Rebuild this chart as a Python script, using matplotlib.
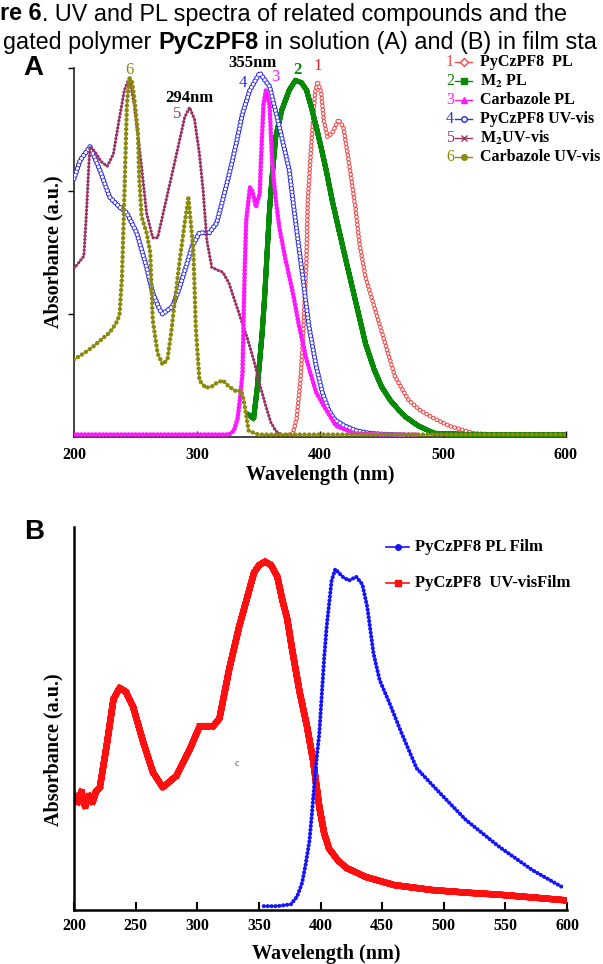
import numpy as np
import matplotlib.pyplot as plt
from matplotlib.lines import Line2D

plt.rcParams['lines.scale_dashes'] = False
plt.rcParams['mathtext.fontset'] = 'stix'
plt.rcParams['font.family'] = 'Liberation Serif'
plt.rcParams['font.weight'] = 'bold'
plt.rcParams['axes.labelweight'] = 'bold'

SANS = 'Liberation Sans'

# ---------------- Panel A (solution), y in axis-tick units ----------------
# 1  PyCzPF8 PL
wl1 = [356, 370, 378, 381, 384, 386, 389, 390, 393, 396, 398, 401, 403, 406, 410,
       415, 419, 424, 429, 432, 437, 445, 453, 461, 472, 481, 491, 505, 525, 560, 580]
ab1 = [0.0, 0.0, 0.03, 0.15, 0.45, 0.76, 1.44, 1.90, 2.39, 2.80, 2.89, 2.80, 2.58, 2.44, 2.47,
       2.58, 2.52, 2.20, 1.85, 1.58, 1.30, 1.03, 0.76, 0.49, 0.30, 0.22, 0.16, 0.09, 0.03, 0.01, 0.01]
# 2  M2 PL
wl2 = [342, 346, 349, 353, 355, 357, 359, 361, 364, 369, 375, 380, 385, 389, 393, 397, 401,
       405, 410, 415, 421, 429, 437, 444, 450, 457, 464, 470, 480, 493, 520, 560, 600]
ab2 = [0.18, 0.15, 0.40, 0.85, 1.14, 1.50, 1.85, 2.11, 2.44, 2.66, 2.82, 2.90, 2.88, 2.82, 2.68, 2.52, 2.35,
       2.17, 1.92, 1.70, 1.44, 1.10, 0.76, 0.55, 0.41, 0.30, 0.22, 0.16, 0.09, 0.03, 0.02, 0.02, 0.02]
# 3  Carbazole PL
wl3 = [200, 250, 300, 326, 330, 333, 335, 337, 338, 339, 340, 343, 345, 348, 351, 352,
       354, 356, 359, 361, 364, 367, 372, 378, 383, 389, 397, 405, 413, 428, 450, 480]
ab3 = [0.02, 0.02, 0.02, 0.02, 0.05, 0.15, 0.32, 0.52, 1.03, 1.44, 1.76, 2.03, 2.00, 1.87, 1.98, 2.25,
       2.70, 2.82, 2.70, 2.25, 1.93, 1.70, 1.44, 1.17, 0.90, 0.63, 0.36, 0.22, 0.09, 0.03, 0.02, 0.02]
# 4  PyCzPF8 UV-vis
wl4 = [200, 205, 213, 221, 229, 237, 243, 251, 259, 264, 270, 272, 280, 286, 291, 296, 302, 310,
       316, 321, 327, 332, 337, 343, 351, 359, 367, 375, 380, 386, 391, 397, 402, 407, 412, 420,
       430, 440, 455, 470]
ab4 = [2.10, 2.25, 2.36, 2.17, 1.95, 1.87, 1.82, 1.66, 1.38, 1.17, 1.03, 1.00, 1.06, 1.22, 1.38, 1.55,
       1.66, 1.66, 1.74, 1.93, 2.17, 2.39, 2.63, 2.82, 2.96, 2.85, 2.52, 2.17, 1.76, 1.30, 0.90, 0.57,
       0.36, 0.22, 0.14, 0.09, 0.05, 0.03, 0.02, 0.015]
# 5  M2 UV-vis
wl5 = [200, 204, 208, 210, 212, 213, 217, 222, 227, 232, 237, 241, 245, 249, 254, 259, 264, 268,
       275, 280, 286, 290, 294, 298, 302, 305, 308, 312, 316, 321, 326, 331, 336, 341, 346, 351,
       356, 360, 364, 368]
ab5 = [1.37, 1.42, 1.47, 1.80, 2.20, 2.36, 2.32, 2.24, 2.20, 2.30, 2.60, 2.82, 2.92, 2.70, 2.28, 1.82,
       1.62, 1.62, 1.93, 2.15, 2.42, 2.60, 2.68, 2.58, 2.30, 2.00, 1.60, 1.38, 1.36, 1.34, 1.25, 1.10,
       0.95, 0.80, 0.63, 0.43, 0.25, 0.12, 0.05, 0.02]
# 6  Carbazole UV-vis
wl6 = [200, 208, 215, 222, 229, 234, 237, 239, 241, 243, 245, 247, 249, 252, 253, 255, 259, 262,
       264, 268, 272, 276, 279, 282, 286, 290, 293, 295, 297, 298, 299, 302, 307, 312, 316, 321,
       326, 332, 336, 338, 342, 350, 400, 500, 600]
ab6 = [0.63, 0.68, 0.73, 0.79, 0.85, 0.92, 0.99, 1.30, 1.98, 2.70, 2.92, 2.90, 2.76, 2.47, 2.11, 1.79,
       1.66, 1.50, 0.95, 0.68, 0.59, 0.63, 0.85, 1.11, 1.44, 1.74, 1.94, 1.74, 1.52, 1.22, 0.89, 0.46,
       0.40, 0.41, 0.44, 0.46, 0.41, 0.37, 0.38, 0.30, 0.05, 0.02, 0.02, 0.02, 0.02]

names_a = ['PyCzPF8  PL', r'M$_{2}$ PL', 'Carbazole PL', 'PyCzPF8 UV-vis',
           r'M$_{2}$UV-vis', 'Carbazole UV-vis']
colors_a = ['#f24a4a', '#078a07', '#ff19ff', '#2b2be8', '#993366', '#8a8a0c']

# ---------------- Panel B (film) ----------------
wl_uv_film = [200, 203, 206, 209, 212, 215, 218, 221, 224, 227, 232, 237, 242, 248, 256, 264, 272,
              283, 294, 302, 308, 313, 318, 326, 334, 340, 346, 350, 355, 360, 365, 369, 373, 377,
              383, 389, 394, 399, 403, 407, 414, 421, 437, 460, 491, 520, 545, 575, 600]
ab_uv_film = [0.30, 0.28, 0.31, 0.27, 0.30, 0.28, 0.31, 0.32, 0.38, 0.44, 0.55, 0.58, 0.57, 0.53, 0.44,
              0.36, 0.32, 0.35, 0.42, 0.48, 0.48, 0.48, 0.50, 0.63, 0.74, 0.81, 0.88, 0.90, 0.91, 0.90,
              0.87, 0.81, 0.76, 0.68, 0.57, 0.48, 0.39, 0.27, 0.20, 0.16, 0.13, 0.11, 0.086, 0.065,
              0.052, 0.045, 0.040, 0.032, 0.025]
wl_pl_film = [354, 365, 376, 381, 385, 388, 391, 393, 395, 397, 399, 401, 403, 405, 407, 409, 412,
              415, 418, 423, 429, 434, 438, 443, 448, 456, 466, 478, 497, 518, 545, 572, 596]
ab_pl_film = [0.01, 0.01, 0.015, 0.035, 0.07, 0.12, 0.18, 0.25, 0.33, 0.40, 0.46, 0.56, 0.66, 0.74,
              0.80, 0.86, 0.89, 0.88, 0.87, 0.86, 0.87, 0.85, 0.79, 0.67, 0.60, 0.54, 0.46, 0.37,
              0.305, 0.235, 0.165, 0.104, 0.06]

W, H = 603, 964
fig = plt.figure(figsize=(W / 100, H / 100), dpi=100)


def fx(px):
    return px / W


def fy(py):
    return 1 - py / H


def beaded(ax, x, y, color, size, gap, hollow=False, cap='round', lw=0.8, z=2):
    # thin connecting line plus densely packed "markers" made by a dotted style
    ax.plot(x, y, color=color, lw=lw, zorder=z)
    ax.plot(x, y, color=color, lw=size, ls=(0, (0.01, gap)), dash_capstyle=cap, zorder=z)
    if hollow:
        ax.plot(x, y, color='white', lw=size - 1.5, ls=(0, (0.01, gap)),
                dash_capstyle=cap, zorder=z)


# ---------------- caption ----------------
def rich_line(x, y, parts, size):
    r = fig.canvas.get_renderer()
    for txt, weight in parts:
        t = fig.text(fx(x), fy(y), txt, fontsize=size, fontweight=weight,
                     family=SANS, va='center', ha='left')
        x += t.get_window_extent(r).width


rich_line(0, 14, [('re 6', 'bold'), ('. UV and PL spectra of related compounds and the', 'normal')], 16.8)
rich_line(3, 43, [('gated polymer ', 'normal'), ('PyCzPF8', 'bold'),
                  (' in solution (A) and (B) in film sta', 'normal')], 16.8)

# ---------------- panel A ----------------
ax = fig.add_axes([fx(74), fy(437), (566 - 74) / W, (437 - 68) / H])
beaded(ax, wl1, ab1, colors_a[0], 3.4, 2.8, hollow=True, z=2)
beaded(ax, wl2, ab2, colors_a[1], 3.6, 1.4, cap='projecting', z=3)
beaded(ax, wl4, ab4, colors_a[3], 3.8, 2.6, hollow=True, z=4)
beaded(ax, wl5, ab5, colors_a[4], 2.4, 2.6, z=5)
beaded(ax, wl3, ab3, colors_a[2], 3.4, 2.6, z=6)
beaded(ax, wl6, ab6, colors_a[5], 3.2, 3.4, z=7)

ax.set_xlim(200, 600)
ax.set_ylim(0, 3)
ax.set_xticks([200, 300, 400, 500, 600])
ax.set_yticks([1, 2, 3])
ax.set_yticklabels([])
ax.tick_params(axis='x', direction='in', length=4, width=1, labelsize=11.5, pad=7)
ax.tick_params(axis='y', direction='out', length=4, width=1)
for s in ['top', 'right']:
    ax.spines[s].set_visible(False)
for s in ['left', 'bottom']:
    ax.spines[s].set_linewidth(1.2)
    ax.spines[s].set_color('#222222')
ax.set_xlabel('Wavelength (nm)', fontsize=14.5, va='center')
ax.xaxis.set_label_coords(0.5, (437 - 475) / 369)
ax.set_ylabel('Absorbance (a.u.)', fontsize=14.5, va='center')
ax.yaxis.set_label_coords((53 - 74) / 492, (437 - 252) / 369)

# peak annotations
ax.text(245, 2.98, '6', color=colors_a[5], fontsize=12, fontweight='normal',
        ha='center', va='center', clip_on=False)
ax.text(294, 2.76, '294nm', color='black', fontsize=12, ha='center', va='center')
ax.text(284, 2.63, '5', color=colors_a[4], fontsize=12, fontweight='normal',
        ha='center', va='center')
ax.text(345, 3.04, '355nm', color='black', fontsize=12, ha='center', va='center', clip_on=False)
ax.text(337, 2.88, '4', color=colors_a[3], fontsize=12, fontweight='normal', ha='center', va='center')
ax.text(364, 2.93, '3', color=colors_a[2], fontsize=12, fontweight='normal', ha='center', va='center')
ax.text(382, 2.98, '2', color=colors_a[1], fontsize=12, ha='center', va='center', clip_on=False)
ax.text(398, 3.02, '1', color='#e82020', fontsize=12, fontweight='normal', ha='center',
        va='center', clip_on=False)

fig.text(fx(23), fy(68), 'A', family=SANS, fontsize=20, fontweight='bold', va='center', ha='left')

# legend A
rows = [62, 81, 100, 119, 138, 157]
markers_a = ['D', 's', '^', 'o', 'x', 'o']
for i, (name, col) in enumerate(zip(names_a, colors_a)):
    y = fy(rows[i])
    fig.text(fx(450), y, str(i + 1), color=col, fontsize=11.5, fontweight='normal',
             ha='center', va='center')
    hollow = i in (0, 3)
    fig.add_artist(Line2D([fx(455), fx(463.5), fx(472)], [y, y, y], color=col, lw=1,
                          marker=markers_a[i], markevery=[1], ms=4,
                          mfc='white' if hollow else col, mec=col))
    fig.text(fx(480), y, name, color='black', fontsize=11.5, ha='left', va='center')

# ---------------- panel B ----------------
bx = fig.add_axes([fx(74), fy(910), (567 - 74) / W, (910 - 527) / H])
beaded(bx, wl_uv_film, ab_uv_film, '#ff1010', 4.6, 1.6, cap='projecting', z=2)
beaded(bx, wl_pl_film, ab_pl_film, '#1414ff', 3.0, 2.8, lw=1.0, z=3)
bx.set_xlim(200, 600)
bx.set_ylim(0, 1)
bx.set_xticks(np.arange(200, 601, 50))
bx.set_yticks([])
bx.tick_params(axis='x', direction='in', length=6, width=1.5, labelsize=11.5, pad=6)
for s in ['top', 'right']:
    bx.spines[s].set_visible(False)
for s in ['left', 'bottom']:
    bx.spines[s].set_linewidth(1.8)
    bx.spines[s].set_color('black')
bx.set_xlabel('Wavelength (nm)', fontsize=14.5, va='center')
bx.xaxis.set_label_coords((326 - 74) / 493, (910 - 954) / 383)
bx.set_ylabel('Absorbance (a.u.)', fontsize=14.5, va='center')
bx.yaxis.set_label_coords((53 - 74) / 493, (910 - 750) / 383)
bx.text(332, (910 - 763) / 383, 'c', fontsize=7, color='#555555', fontweight='normal',
        ha='center', va='center')

fig.text(fx(24), fy(532), 'B', family=SANS, fontsize=20, fontweight='bold', va='center', ha='left')

# legend B
leg_b = [('PyCzPF8 PL Film', '#1414ff', 'o', 547), ('PyCzPF8  UV-visFilm', '#ff1010', 's', 583)]
for name, col, mk, py in leg_b:
    fig.add_artist(Line2D([fx(386), fx(397.5), fx(409)], [fy(py)] * 3, color=col, lw=1.2,
                          marker=mk, markevery=[1], ms=4, mfc=col, mec=col))
    fig.text(fx(415), fy(py), name, fontsize=12, ha='left', va='center')

fig.savefig('out.png', dpi=100)
